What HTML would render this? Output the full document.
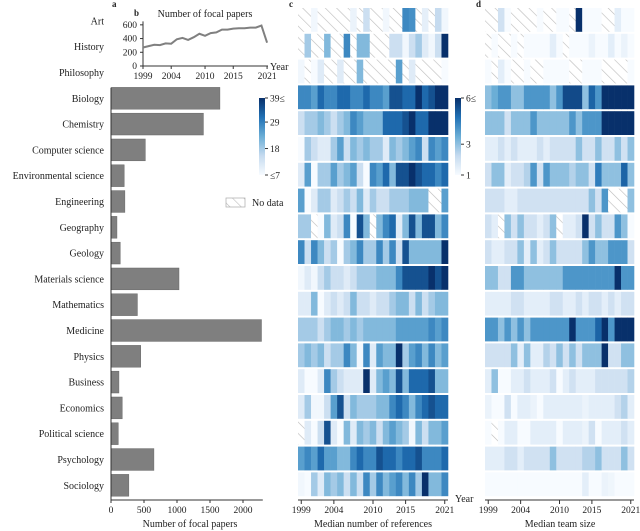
<!DOCTYPE html>
<html><head><meta charset="utf-8">
<style>
html,body{margin:0;padding:0;background:#fff;}
svg{display:block;font-family:"Liberation Serif",serif;}
</style></head>
<body>
<svg id="chart" width="640" height="531" viewBox="0 0 640 531">
<defs>
<pattern id="hatch" patternUnits="userSpaceOnUse" width="8" height="8" patternTransform="rotate(-45)">
<rect width="8" height="8" fill="#fff"/><line x1="0" y1="0" x2="0" y2="8" stroke="#bbb" stroke-width="1.2"/>
</pattern>
<linearGradient id="gradBlues" x1="0" y1="1" x2="0" y2="0">
<stop offset="0" stop-color="#f7fbff"/><stop offset="0.25" stop-color="#c6dbef"/><stop offset="0.5" stop-color="#6baed6"/><stop offset="0.75" stop-color="#2171b5"/><stop offset="1" stop-color="#08306b"/>
</linearGradient>
</defs>
</svg>
<script>
const categories=["Art","History","Philosophy","Biology","Chemistry","Computer science","Environmental science","Engineering","Geography","Geology","Materials science","Mathematics","Medicine","Physics","Business","Economics","Political science","Psychology","Sociology"];
const focalPapers=[0,0,0,1650,1400,520,200,210,90,140,1030,400,2280,450,120,170,110,650,270];
const years=[1999,2000,2001,2002,2003,2004,2005,2006,2007,2008,2009,2010,2011,2012,2013,2014,2015,2016,2017,2018,2019,2020,2021];
const papersPerYear=[270,290,310,305,330,325,390,410,380,420,470,440,480,490,530,530,545,550,550,560,560,590,340];
const barTicks=[0,500,1000,1500,2000];
const insetYTicks=[0,200,400,600];
const yearTicks=[1999,2004,2010,2015,2021];
const N=null;
const refs=[
[N,N,8,N,N,N,N,N,9,N,14,N,N,8,N,N,28,27,N,10,N,15,8],
[N,18,N,N,21,N,N,28,N,21,21,N,N,N,14,14,8,14,18,11,8,14,39],
[8,N,7,11,N,N,11,N,N,21,N,N,N,N,N,25,N,11,N,N,N,N,7],
[28,28,25,32,28,28,32,32,28,28,32,28,28,25,35,35,32,32,39,32,35,39,39],
[14,18,18,21,18,14,18,21,28,25,21,21,21,32,32,32,35,39,32,32,39,39,39],
[7,18,14,11,11,18,25,14,21,18,21,18,18,11,21,18,21,25,28,14,28,25,28],
[11,25,7,18,18,25,18,21,25,14,7,28,25,32,21,35,35,39,35,32,32,28,32],
[25,7,11,18,18,11,14,18,14,21,11,18,14,14,18,18,18,21,21,21,N,N,25],
[18,18,N,7,21,11,14,28,7,35,21,N,21,28,32,11,21,35,21,35,35,21,28],
[28,14,28,21,14,18,7,18,21,28,18,18,28,18,28,14,35,21,21,21,21,21,39],
[8,11,8,14,18,14,14,11,14,18,18,18,21,21,21,28,35,35,35,35,39,35,39],
[11,11,21,7,11,14,11,14,21,14,14,11,14,14,18,21,21,14,21,14,18,21,21],
[18,18,18,14,18,21,21,18,21,18,21,21,21,21,21,25,25,25,25,25,28,25,28],
[18,21,18,21,14,18,18,28,21,8,28,11,25,21,21,39,18,25,28,21,28,21,25],
[11,7,7,11,28,18,14,11,11,11,39,11,21,25,21,35,21,32,32,32,35,21,21],
[11,18,8,8,14,25,35,14,21,18,18,18,21,21,28,32,28,21,28,32,35,32,32],
[N,11,7,14,35,11,7,21,11,21,18,21,14,21,25,21,18,8,21,14,21,21,25],
[25,28,25,32,25,25,21,21,28,32,28,28,35,32,32,28,32,32,35,28,28,28,32],
[8,7,18,11,21,18,21,14,21,14,28,18,28,21,25,28,21,28,18,39,21,21,28]];
const team=[
[N,N,2,1,N,N,N,N,1,N,N,1,1,N,6,1,1,1,N,N,1.5,1,1],
[N,1,N,N,1,N,1,1,1,1,1.5,1,N,1,1,1,1.3,1,1,1.5,1,1.3,1],
[1,N,1.5,1,N,N,1,N,N,1,1,1,1,N,N,1,1,1,N,N,N,N,1],
[3,3.5,4,4,3,3,4,4,4,4,3,4,5.5,5.5,5.5,3,5,4,6,6,6,6,6],
[3,3,3,2,3,3,3,4,3,3,3,3,3,4,3,4,4,4,6,6,6,6,6],
[1.5,1.5,2,1.5,2,1.5,1.5,1.5,2,1.5,2,2,2,2,3,2,2,3,2,2,3,2,3],
[2,3,3,1.5,2,2,2.5,4,2,4,3,3,3,2.5,3,3,2,4.5,3,3,3,5,3],
[2,2,2,1.5,1.5,2,2,2,2,2,2,2,2,2,2,2,3,2,4,N,N,N,3],
[2,1.5,N,3,2,3,2,2,1.5,2,3,N,1.5,1.5,2,6,2,3,2,2,4,3,1],
[2,1.5,1.5,2,2,3,1.5,3,1.5,2,3,2,2,2,2,3,4,3,3,4,4,4,2],
[3,3,2,2,4,4,3,3,3,3,3,3,4,4,4,4,4,4,4,4,6,4,4],
[1.5,1.5,1.5,1.5,2,2,1.5,1.5,1.5,1.5,2,2,1.5,1.5,2,1.5,2,2,1.5,2,1.5,2,2],
[4,4,3,4,3,4,3,4,4,4,4,4,4,6,4,4,4,5,6,4,6,6,6],
[2,2,2,2,3,1.5,3,1.5,1.5,2.5,2,3,2,3,2,3,3,3,6,2,2,3,3],
[1.5,3,1,1,1.5,1.5,2,1.5,1.5,1.5,2,1,1.5,2,1.5,1.5,1.5,2,2,2,2,2,2.5],
[1.3,1,1,2,1,1.5,1.5,1.3,1,1.5,1.5,1.5,1.5,1.5,1.5,1.3,1.5,1.5,1.5,1.5,2,2.5,1.5],
[1,N,1,1.5,1.5,1,1,1.5,1.5,1.5,1.5,1,1.5,1.5,1.5,1.3,2,1,1.5,1.5,1.5,2,1.5],
[1.5,1.5,1.5,2,2,1.5,2,2,2,2,3,2,2,2,2,2.5,2.5,3,2,2,2,3,2],
[1,1,1,1,1,1,1,1,1,1,1,1,1,1,1,1.5,1,1,1.3,1.2,1,1,1]];

const svg=document.getElementById('chart');
const NS="http://www.w3.org/2000/svg";
function mk(tag,attrs,parent,text){const e=document.createElementNS(NS,tag);for(const k in attrs)e.setAttribute(k,attrs[k]);if(text!==undefined)e.textContent=text;(parent||svg).appendChild(e);return e;}
const stops=[[247,251,255],[198,219,239],[107,174,214],[33,113,181],[8,48,107]];
function blues(t){t=Math.max(0,Math.min(1,t));const p=t*4,i=Math.min(3,Math.floor(p)),f=p-i;const a=stops[i],b=stops[i+1];return `rgb(${a.map((v,k)=>Math.round(v+(b[k]-v)*f)).join(',')})`;}

const rowTop=8,rowH=25.8;
const rowY=i=>rowTop+i*rowH;
// a: bar chart
const bx=v=>111+v*0.066;
categories.forEach((c,i)=>{
  const t=mk('text',{x:104,y:rowY(i)+rowH/2+3.5,'text-anchor':'end','font-size':10,fill:'#222'},svg,c);
  
  
  if(focalPapers[i]>0){
    const r=mk('rect',{x:bx(0),y:rowY(i)+2,width:bx(focalPapers[i])-bx(0),height:rowH-4,fill:'#7f7f7f',stroke:'#666','stroke-width':0.5});
    
    
  }
});
mk('line',{x1:111,y1:88,x2:111,y2:500,stroke:'#333','stroke-width':1});
mk('line',{x1:111,y1:500,x2:bx(2300),y2:500,stroke:'#333','stroke-width':1});
barTicks.forEach(v=>{
  mk('line',{x1:bx(v),y1:500,x2:bx(v),y2:503,stroke:'#333'});
  const t=mk('text',{x:bx(v),y:513,'text-anchor':'middle','font-size':9.5,fill:'#222'},svg,v);
  
  
});
const bxl=mk('text',{x:190,y:527,'text-anchor':'middle','font-size':10,fill:'#222'},svg,'Number of focal papers');



// b: inset line chart
const ix=y=>143+(y-1999)*5.64, iy=v=>66-v*0.0686;
mk('line',{x1:143,y1:iy(650),x2:143,y2:66,stroke:'#333'});
mk('line',{x1:143,y1:66,x2:268,y2:66,stroke:'#333'});
insetYTicks.forEach(v=>{mk('line',{x1:140,y1:iy(v),x2:143,y2:iy(v),stroke:'#333'});
  const t=mk('text',{x:137,y:iy(v)+3,'text-anchor':'end','font-size':9.5,fill:'#222'},svg,v);
  
  });
yearTicks.forEach(y=>{mk('line',{x1:ix(y),y1:66,x2:ix(y),y2:69,stroke:'#333'});
  const t=mk('text',{x:ix(y),y:79,'text-anchor':'middle','font-size':9.5,fill:'#222'},svg,y);
  
  });
const pl=mk('polyline',{points:years.map((y,i)=>ix(y)+','+iy(papersPerYear[i])).join(' '),fill:'none',stroke:'#808080','stroke-width':2});


mk('text',{x:270,y:70,'font-size':10,fill:'#222'},svg,'Year');
mk('text',{x:205,y:17,'text-anchor':'middle','font-size':10,fill:'#222'},svg,'Number of focal papers');

// heatmaps
function heat(data,x0,x1,vmin,vmax,name){
  const cw=(x1-x0)/years.length;
  data.forEach((row,i)=>{row.forEach((v,j)=>{
    const r=mk('rect',{x:x0+j*cw,y:rowY(i),width:cw+0.3,height:rowH-2,fill:v===null?'url(#hatch)':blues((v-vmin)/(vmax-vmin))});
    
    
  });});
  mk('line',{x1:x0,y1:500,x2:x1,y2:500,stroke:'#333'});
  yearTicks.forEach(y=>{const cx=x0+(y-1999+0.5)*cw;
    mk('line',{x1:cx,y1:500,x2:cx,y2:504,stroke:'#333'});
    const t=mk('text',{x:cx,y:513,'text-anchor':'middle','font-size':9.5,fill:'#222'},svg,y);
    
    });
}
heat(refs,298,448,7,39,'references');
heat(team,485,634,1,6,'team-size');
mk('text',{x:455,y:502,'font-size':10,fill:'#222'},svg,'Year');
mk('text',{x:373,y:527,'text-anchor':'middle','font-size':10,fill:'#222'},svg,'Median number of references');
mk('text',{x:560,y:527,'text-anchor':'middle','font-size':10,fill:'#222'},svg,'Median team size');

// colorbars
function cbar(x,labels,vmin,vmax,name){
  const r=mk('rect',{x:x,y:98,width:6,height:77,fill:'url(#gradBlues)'});
  
  
  labels.forEach(([v,l])=>{const y=175-(v-vmin)/(vmax-vmin)*77;
    mk('line',{x1:x+6,y1:y,x2:x+9,y2:y,stroke:'#333'});
    mk('text',{x:x+11,y:y+3.5,'font-size':9.5,fill:'#222'},svg,l);});
}
cbar(259,[[39,'39≤'],[29,'29'],[18,'18'],[7,'≤7']],7,39,'references-colorbar');
cbar(455,[[6,'6≤'],[3,'3'],[1,'1']],1,6,'team-size-colorbar');
const nd=mk('rect',{x:226,y:198,width:19,height:9,fill:'url(#hatch)',stroke:'#aaa','stroke-width':0.7});


mk('text',{x:252,y:206,'font-size':10,fill:'#222'},svg,'No data');

// panel letters
[['a',112,7],['b',134,16],['c',289,7],['d',476,7]].forEach(([l,x,y])=>{
  const t=mk('text',{x:x,y:y,'font-size':9,'font-weight':'bold',fill:'#222'},svg,l);
  
  });
</script>
</body></html>
